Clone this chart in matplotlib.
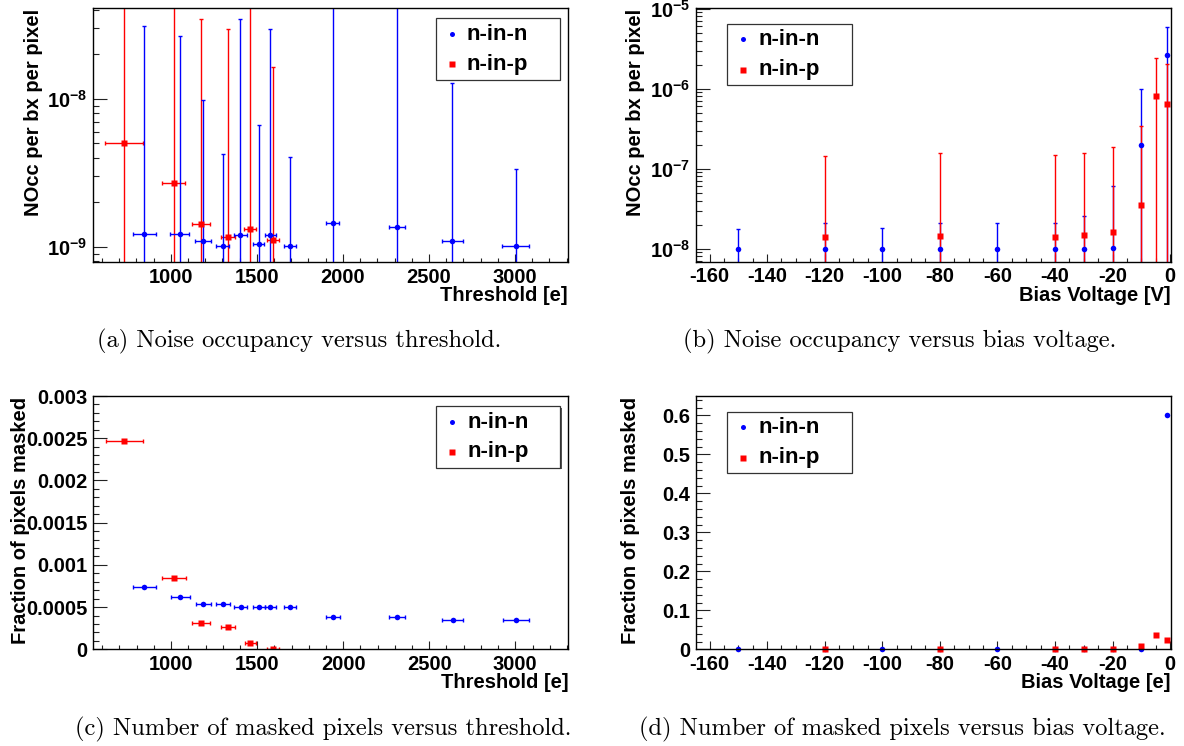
import matplotlib
matplotlib.use('Agg')
import matplotlib.pyplot as plt
from matplotlib.ticker import MultipleLocator, FuncFormatter, NullFormatter, LogLocator
from matplotlib.patches import Rectangle

plt.rcParams['font.family'] = ['Liberation Sans', 'DejaVu Sans']
plt.rcParams['font.weight'] = 'bold'
plt.rcParams['axes.unicode_minus'] = False
plt.rcParams['mathtext.fontset'] = 'custom'
plt.rcParams['mathtext.rm'] = 'Liberation Sans:bold'
plt.rcParams['mathtext.bf'] = 'Liberation Sans:bold'
plt.rcParams['mathtext.it'] = 'Liberation Sans:bold:italic'

# ---------------- data ----------------
series_labels = ['n-in-n', 'n-in-p']

# threshold scans
thr_nn = [845, 1052, 1188, 1302, 1405, 1510, 1577, 1692, 1940, 2314, 2636, 3003]
thr_nn_err = [67, 55, 45, 39, 38, 34, 32, 34, 39, 48, 63, 77]
nocc_thr_nn = [1.23e-9, 1.23e-9, 1.10e-9, 1.02e-9, 1.21e-9, 1.05e-9,
               1.21e-9, 1.02e-9, 1.44e-9, 1.36e-9, 1.10e-9, 1.02e-9]
nocc_thr_nn_err = [2.98e-8, 2.53e-8, 8.7e-9, 3.2e-9, 3.35e-8, 5.65e-9,
                   2.85e-8, 3.0e-9, 8e-8, 8e-8, 1.16e-8, 2.33e-9]

thr_np = [728, 1016, 1176, 1333, 1461, 1593]
thr_np_err = [109, 68, 52, 41, 33, 35]
nocc_thr_np = [5.0e-9, 2.69e-9, 1.42e-9, 1.17e-9, 1.32e-9, 1.11e-9]
nocc_thr_np_err = [1e-7, 1e-7, 3.3e-8, 2.86e-8, 1e-7, 1.52e-8]

mask_thr_nn = [0.000734, 0.000616, 0.000537, 0.000541, 0.000497, 0.000497,
               0.000497, 0.000497, 0.000383, 0.000383, 0.000347, 0.000347]
mask_thr_np = [0.002467, 0.000849, 0.000308, 0.000268, 0.000079, 0.000003]

# bias voltage scans
bias_nn = [-150, -120, -100, -80, -60, -40, -30, -20, -10, -1]
nocc_bias_nn = [1.0e-8, 1.0e-8, 1.0e-8, 1.0e-8, 1.0e-8, 1.0e-8, 1.0e-8,
                1.03e-8, 1.98e-7, 2.6e-6]
nocc_bias_nn_err = [7.6e-9, 1.11e-8, 8e-9, 1.1e-8, 1.1e-8, 1.08e-8, 1.6e-8,
                    5.05e-8, 8.0e-7, 3.25e-6]

bias_np = [-120, -80, -40, -30, -20, -10, -5, -1]
nocc_bias_np = [1.41e-8, 1.43e-8, 1.40e-8, 1.47e-8, 1.60e-8, 3.49e-8, 8.1e-7, 6.37e-7]
nocc_bias_np_err = [1.31e-7, 1.44e-7, 1.34e-7, 1.43e-7, 1.72e-7, 3.04e-7, 1.63e-6, 1.40e-6]

mask_bias_nn = [0.0, 0.0, 0.0, 0.0, 0.0, 0.0, 0.0, 0.0005, 0.001, 0.602]
mask_bias_np = [0.0, 0.0, 0.0, 0.0017, 0.0010, 0.0085, 0.036, 0.024]

captions = ['(a) Noise occupancy versus threshold.',
            '(b) Noise occupancy versus bias voltage.',
            '(c) Number of masked pixels versus threshold.',
            '(d) Number of masked pixels versus bias voltage.']

# ---------------- style ----------------
BLUE = '#0000ff'
RED = '#ff0000'
W, H = 1184, 746
fig = plt.figure(figsize=(W / 100, H / 100), dpi=100)


def px_axes(l, t, r, b):
    return fig.add_axes([l / W, 1 - b / H, (r - l) / W, (b - t) / H])


axA = px_axes(93, 8, 568, 262)
axB = px_axes(695.7, 8, 1170.7, 261.7)
axC = px_axes(93.3, 396, 568.3, 649.3)
axD = px_axes(695.7, 396, 1170.7, 649.3)

TS = 14.5
MS_O = 4.0
MS_S = 4.4
ebkw = dict(elinewidth=1.0, capsize=1.4, capthick=1.0, linestyle='none')


def style(ax, xlabel, ylabel, ylab_x):
    ax.tick_params(which='both', direction='in', top=False, right=False,
                   width=0.8, color='#222222', labelsize=TS)
    ax.tick_params(axis='y', which='major', length=10, pad=4)
    ax.tick_params(axis='y', which='minor', length=4.3)
    ax.tick_params(axis='x', which='major', length=5.8, pad=4)
    ax.tick_params(axis='x', which='minor', length=3.2)
    for s in ax.spines.values():
        s.set_linewidth(1.0)
        s.set_color('black')
    ax.set_xlabel(xlabel, fontsize=TS, fontweight='bold', loc='right')
    ax.set_ylabel(ylabel, fontsize=TS, fontweight='bold', loc='top')
    ax.xaxis.set_label_coords(1.0, -0.094)
    ax.yaxis.set_label_coords(ylab_x, 0.995)


def legend(ax, left):
    if left:
        bx0, bx1, by0, by1 = 0.0665, 0.3284, 0.697, 0.938
        mx, tx = 0.100, 0.132
        rows = (0.876, 0.757)
    else:
        bx0, bx1, by0, by1 = 0.7215, 0.983, 0.716, 0.959
        mx, tx = 0.755, 0.787
        rows = (0.896, 0.779)
    sh = Rectangle((bx0 + 0.003, by0 - 0.005), bx1 - bx0, by1 - by0,
                   transform=ax.transAxes, facecolor='#555555', edgecolor='none', zorder=9)
    ax.add_patch(sh)
    box = Rectangle((bx0, by0), bx1 - bx0, by1 - by0, transform=ax.transAxes,
                    facecolor='white', edgecolor='#333333', linewidth=0.9, zorder=10)
    ax.add_patch(box)
    ax.plot([mx], [rows[0]], marker='o', ms=3.6, color=BLUE, mec='none',
            transform=ax.transAxes, zorder=11, clip_on=False)
    ax.plot([mx], [rows[1]], marker='s', ms=4.0, color=RED, mec='none',
            transform=ax.transAxes, zorder=11, clip_on=False)
    for lab, y in zip(series_labels, rows):
        ax.text(tx, y, lab, transform=ax.transAxes, fontsize=16, fontweight='bold',
                va='center', ha='left', zorder=11)


def log_fmt(v, pos):
    import math
    e = int(round(math.log10(v)))
    return r'$\mathbf{10^{%d}}$' % e


def lin_fmt(v, pos):
    if abs(v) < 1e-12:
        return '0'
    return '%g' % v


# ---- (a) ----
ax = axA
ax.set_yscale('log')
ax.errorbar(thr_np, nocc_thr_np, xerr=thr_np_err, yerr=nocc_thr_np_err,
            marker='s', ms=MS_S, mec='none', color=RED, ecolor=RED, **ebkw)
ax.errorbar(thr_nn, nocc_thr_nn, xerr=thr_nn_err, yerr=nocc_thr_nn_err,
            marker='o', ms=MS_O, mec='none', color=BLUE, ecolor=BLUE, **ebkw)
ax.set_xlim(548, 3308)
ax.set_ylim(7.9e-10, 4.1e-8)
ax.xaxis.set_major_locator(MultipleLocator(500))
ax.xaxis.set_minor_locator(MultipleLocator(100))
ax.yaxis.set_major_locator(LogLocator(base=10))
ax.yaxis.set_minor_locator(LogLocator(base=10, subs=range(2, 10)))
ax.yaxis.set_major_formatter(FuncFormatter(log_fmt))
ax.yaxis.set_minor_formatter(NullFormatter())
style(ax, 'Threshold [e]', 'NOcc per bx per pixel', -0.105)
legend(ax, left=False)

# ---- (b) ----
ax = axB
ax.set_yscale('log')
ax.errorbar(bias_nn, nocc_bias_nn, yerr=nocc_bias_nn_err,
            marker='o', ms=MS_O, mec='none', color=BLUE, ecolor=BLUE, **ebkw)
ax.errorbar(bias_np, nocc_bias_np, yerr=nocc_bias_np_err,
            marker='s', ms=MS_S, mec='none', color=RED, ecolor=RED, **ebkw)
ax.set_xlim(-164.8, 0.2)
ax.set_ylim(6.88e-9, 1.02e-5)
ax.xaxis.set_major_locator(MultipleLocator(20))
ax.xaxis.set_minor_locator(MultipleLocator(5))
ax.yaxis.set_major_locator(LogLocator(base=10))
ax.yaxis.set_minor_locator(LogLocator(base=10, subs=range(2, 10)))
ax.yaxis.set_major_formatter(FuncFormatter(log_fmt))
ax.yaxis.set_minor_formatter(NullFormatter())
style(ax, 'Bias Voltage [V]', 'NOcc per bx per pixel', -0.107)
legend(ax, left=True)

# ---- (c) ----
ax = axC
ax.errorbar(thr_np, mask_thr_np, xerr=thr_np_err,
            marker='s', ms=MS_S, mec='none', color=RED, ecolor=RED, **ebkw)
ax.errorbar(thr_nn, mask_thr_nn, xerr=thr_nn_err,
            marker='o', ms=MS_O, mec='none', color=BLUE, ecolor=BLUE, **ebkw)
ax.set_xlim(548, 3308)
ax.set_ylim(0, 0.003)
ax.xaxis.set_major_locator(MultipleLocator(500))
ax.xaxis.set_minor_locator(MultipleLocator(100))
ax.yaxis.set_major_locator(MultipleLocator(0.0005))
ax.yaxis.set_minor_locator(MultipleLocator(0.0001))
ax.yaxis.set_major_formatter(FuncFormatter(lin_fmt))
style(ax, 'Threshold [e]', 'Fraction of pixels masked', -0.133)
legend(ax, left=False)

# ---- (d) ----
ax = axD
ax.plot(bias_nn, mask_bias_nn, marker='o', ms=MS_O, mec='none', color=BLUE,
        linestyle='none', clip_on=False)
ax.plot(bias_np, mask_bias_np, marker='s', ms=MS_S, mec='none', color=RED,
        linestyle='none', clip_on=False)
ax.set_xlim(-164.8, 0.2)
ax.set_ylim(0, 0.65)
ax.xaxis.set_major_locator(MultipleLocator(20))
ax.xaxis.set_minor_locator(MultipleLocator(5))
ax.yaxis.set_major_locator(MultipleLocator(0.1))
ax.yaxis.set_minor_locator(MultipleLocator(0.02))
ax.yaxis.set_major_formatter(FuncFormatter(lin_fmt))
style(ax, 'Bias Voltage [e]', 'Fraction of pixels masked', -0.118)
legend(ax, left=True)

# ---- captions ----
cap_pos = [(299, 341), (900, 341), (323, 729), (902, 729)]
for txt, (cx, cy) in zip(captions, cap_pos):
    fig.text(cx / W, 1 - cy / H, txt, family='cmr10', fontweight='normal',
             fontsize=17.6, ha='center', va='center')

fig.savefig('out.png', dpi=100)
